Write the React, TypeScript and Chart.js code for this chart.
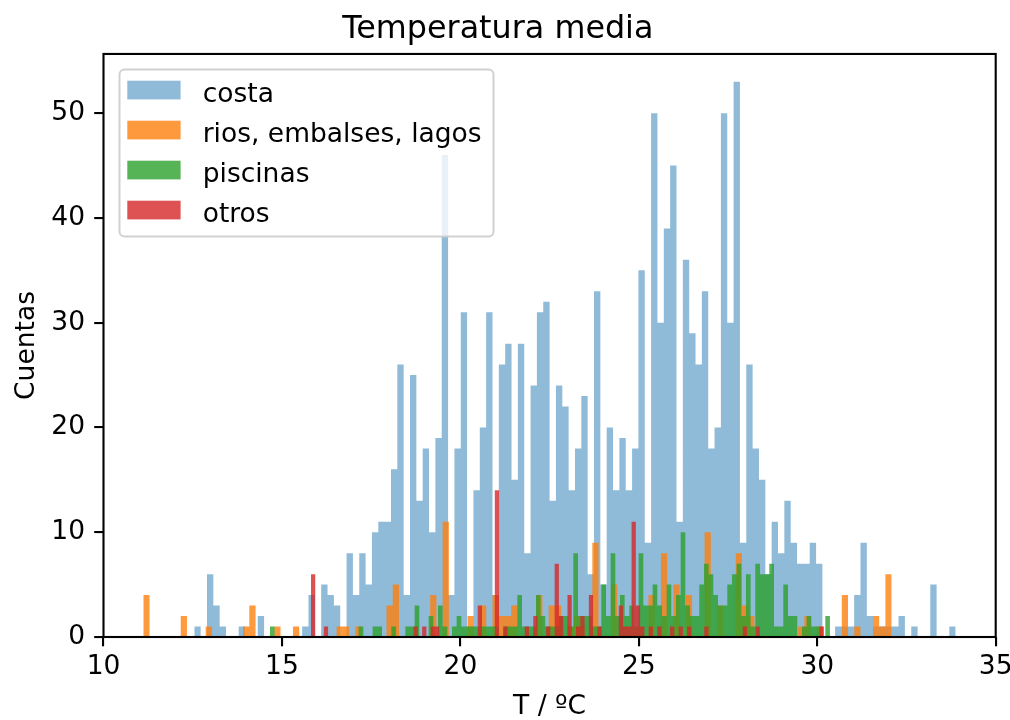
import React, { useEffect, useRef } from "react";
import { Chart, registerables } from "chart.js";

Chart.register(...registerables);

const FONT = "'DejaVu Sans', 'Liberation Sans', sans-serif";

const TITLE = "Temperatura media";
const X_LABEL = "T / ºC";
const Y_LABEL = "Cuentas";
const SERIES_LABELS = ["costa", "rios, embalses, lagos", "piscinas", "otros"];
const X_TICKS = [10, 15, 20, 25, 30, 35];
const Y_TICKS = [0, 10, 20, 30, 40, 50];

// each histogram: 120 bins spanning [min, max] of that series
const costaRange = [12.544, 33.878];
const costaCounts = [
  1, 0, 6, 3, 1, 0, 0, 1, 0, 0,
  2, 0, 0, 0, 0, 0, 0, 1, 4, 0,
  5, 4, 3, 0, 8, 4, 8, 5, 10, 11,
  11, 16, 26, 4, 25, 13, 18, 10, 19, 46,
  4, 18, 31, 1, 14, 20, 31, 4, 26, 28,
  15, 28, 8, 24, 31, 32, 13, 24, 22, 14,
  18, 23, 6, 33, 5, 20, 14, 19, 14, 18,
  35, 9, 50, 30, 39, 45, 11, 36, 29, 26,
  33, 18, 20, 50, 30, 53, 9, 26, 18, 15,
  6, 11, 8, 13, 9, 7, 7, 9, 7, 0,
  0, 1, 1, 1, 4, 9, 2, 1, 1, 1,
  1, 2, 0, 1, 0, 0, 5, 0, 0, 1,
];

const riosRange = [11.115, 32.085];
const riosCounts = [
  4, 0, 0, 0, 0, 0, 2, 0, 0, 0,
  1, 0, 0, 0, 0, 0, 1, 3, 0, 0,
  0, 1, 0, 0, 1, 0, 0, 0, 0, 0,
  0, 1, 1, 0, 1, 0, 0, 0, 0, 3,
  5, 0, 0, 0, 0, 0, 4, 0, 11, 0,
  0, 0, 2, 0, 3, 0, 4, 2, 2, 3,
  0, 0, 0, 4, 0, 3, 3, 0, 1, 2,
  1, 0, 9, 0, 0, 5, 0, 0, 0, 0,
  0, 4, 0, 8, 0, 5, 0, 4, 0, 0,
  10, 0, 3, 0, 0, 8, 3, 2, 0, 0,
  0, 0, 0, 0, 0, 1, 2, 0, 1, 0,
  0, 0, 4, 0, 1, 0, 0, 2, 1, 6,
];

const piscinasRange = [14.665, 30.356];
const piscinasCounts = [
  1, 0, 0, 0, 0, 0, 0, 0, 0, 0,
  0, 0, 0, 0, 0, 0, 0, 0, 0, 1,
  0, 0, 1, 1, 0, 0, 1, 0, 0, 1,
  1, 3, 0, 0, 2, 0, 3, 1, 0, 1,
  2, 1, 1, 1, 1, 1, 1, 1, 1, 0,
  1, 1, 1, 4, 1, 1, 1, 4, 2, 1,
  1, 1, 2, 2, 1, 8, 2, 2, 2, 1,
  1, 5, 2, 8, 2, 4, 2, 3, 1, 8,
  3, 3, 5, 3, 2, 5, 2, 4, 10, 3,
  2, 2, 5, 7, 6, 4, 3, 3, 5, 6,
  7, 2, 6, 1, 7, 6, 6, 7, 1, 1,
  5, 2, 2, 0, 1, 2, 1, 1, 0, 2,
];

const otrosRange = [15.814, 30.187];
const otrosCounts = [
  6, 0, 0, 1, 0, 0, 0, 0, 0, 0,
  0, 0, 0, 0, 0, 0, 0, 0, 0, 0,
  0, 0, 0, 0, 1, 0, 1, 0, 1, 1,
  0, 0, 0, 0, 0, 0, 0, 0, 0, 3,
  0, 0, 0, 14, 0, 1, 0, 0, 0, 0,
  1, 0, 2, 0, 0, 1, 0, 7, 2, 0,
  4, 0, 1, 2, 0, 4, 0, 1, 0, 0,
  0, 0, 3, 1, 1, 11, 3, 1, 0, 1,
  0, 1, 0, 0, 1, 0, 1, 0, 1, 0,
  0, 0, 1, 0, 0, 0, 0, 0, 0, 0,
  0, 1, 0, 0, 1, 0, 0, 0, 0, 0,
  0, 0, 0, 0, 0, 0, 0, 0, 0, 1,
];

const SERIES = [
  { range: costaRange, counts: costaCounts, color: "rgba(31,119,180,0.5)" },
  { range: riosRange, counts: riosCounts, color: "rgba(255,127,14,0.8)" },
  { range: piscinasRange, counts: piscinasCounts, color: "rgba(44,160,44,0.8)" },
  { range: otrosRange, counts: otrosCounts, color: "rgba(214,39,40,0.8)" },
];

function histPoints(range: number[], counts: number[]) {
  const w = (range[1] - range[0]) / counts.length;
  const pts = counts.map((c, i) => ({ x: range[0] + i * w, y: c }));
  pts.push({ x: range[1], y: counts[counts.length - 1] });
  return pts;
}

const framePlugin = {
  id: "mplFrame",
  afterDatasetsDraw(chart: any) {
    const { ctx, chartArea } = chart;
    ctx.save();
    ctx.strokeStyle = "#000";
    ctx.lineWidth = 2.1;
    ctx.strokeRect(chartArea.left, chartArea.top, chartArea.right - chartArea.left, chartArea.bottom - chartArea.top);
    ctx.restore();
  },
};

const legendPlugin = {
  id: "mplLegend",
  afterDraw(chart: any) {
    const ctx = chart.ctx;
    ctx.save();
    const x0 = 119.5, y0 = 69.5, x1 = 493.5, y1 = 236.5;
    ctx.beginPath();
    if ((ctx as any).roundRect) (ctx as any).roundRect(x0, y0, x1 - x0, y1 - y0, 5);
    else ctx.rect(x0, y0, x1 - x0, y1 - y0);
    ctx.fillStyle = "rgba(255,255,255,0.8)";
    ctx.fill();
    ctx.strokeStyle = "rgba(204,204,204,0.9)";
    ctx.lineWidth = 2;
    ctx.stroke();
    chart.data.datasets.forEach((ds: any, i: number) => {
      const yc = 90 + 40 * i;
      ctx.fillStyle = ds.backgroundColor;
      ctx.fillRect(127.3, yc - 9.3, 53.3, 18.7);
      ctx.fillStyle = "#000";
      ctx.font = `26.5px ${FONT}`;
      ctx.textAlign = "left";
      ctx.textBaseline = "alphabetic";
      ctx.fillText(ds.label, 202.7, yc + 11.5);
    });
    ctx.restore();
  },
};

export default function App() {
  const ref = useRef<HTMLCanvasElement>(null);

  useEffect(() => {
    const canvas = ref.current;
    if (!canvas) return;
    const datasets = SERIES.map((s, i) => ({
      label: SERIES_LABELS[i],
      data: histPoints(s.range, s.counts),
      backgroundColor: s.color,
      borderColor: s.color,
      borderWidth: 0,
      pointRadius: 0,
      pointHoverRadius: 0,
      stepped: "before" as const,
      fill: "origin",
      tension: 0,
      order: SERIES.length - i,
    }));

    const tickFont = { family: FONT, size: 26.5, weight: "normal" as const };

    const chart = new Chart(canvas, {
      type: "line",
      data: { datasets },
      options: {
        responsive: false,
        animation: false,
        devicePixelRatio: 1,
        events: [],
        layout: { padding: { left: 0, right: 14.3, top: 0, bottom: 0 } },
        plugins: {
          legend: { display: false },
          tooltip: { enabled: false },
          title: {
            display: true,
            text: TITLE,
            color: "#000",
            font: { family: FONT, size: 31.8, weight: "normal", lineHeight: 1.2 },
            padding: { top: 10.5, bottom: 5.3 },
          },
        },
        scales: {
          x: {
            type: "linear",
            min: 10,
            max: 35,
            afterBuildTicks: (scale: any) => {
              scale.ticks = X_TICKS.map((v) => ({ value: v }));
            },
            afterFit: (scale: any) => {
              scale.height = 83;
              scale.paddingLeft = 0;
              scale.paddingRight = 0;
            },
            ticks: { color: "#000", font: tickFont, padding: 4.8, maxRotation: 0, autoSkip: false },
            grid: { display: true, drawOnChartArea: false, drawTicks: true, tickLength: 9.3, color: "#000", lineWidth: 2.1 },
            border: { display: false },
            title: {
              display: true,
              text: X_LABEL,
              color: "#000",
              font: { family: FONT, size: 26.5, weight: "normal", lineHeight: 1 },
              padding: { top: 0, bottom: 0 },
            },
          },
          y: {
            type: "linear",
            min: 0,
            max: 55.65,
            afterBuildTicks: (scale: any) => {
              scale.ticks = Y_TICKS.map((v) => ({ value: v }));
            },
            afterFit: (scale: any) => {
              scale.width = 103.5;
              scale.paddingTop = 0;
              scale.paddingBottom = 0;
            },
            ticks: { color: "#000", font: tickFont, padding: 9.2, autoSkip: false },
            grid: { display: true, drawOnChartArea: false, drawTicks: true, tickLength: 9.3, color: "#000", lineWidth: 2.1 },
            border: { display: false },
            title: {
              display: true,
              text: Y_LABEL,
              color: "#000",
              font: { family: FONT, size: 26.5, weight: "normal", lineHeight: 1.2 },
              padding: { top: 11, bottom: 0 },
            },
          },
        },
      },
      plugins: [framePlugin, legendPlugin],
    } as any);

    return () => chart.destroy();
  }, []);

  return (
    <div style={{ position: "fixed", left: 0, top: 0, width: 1010, height: 720, background: "#fff" }}>
      <canvas ref={ref} width={1010} height={720} style={{ display: "block", width: 1010, height: 720 }} />
    </div>
  );
}
